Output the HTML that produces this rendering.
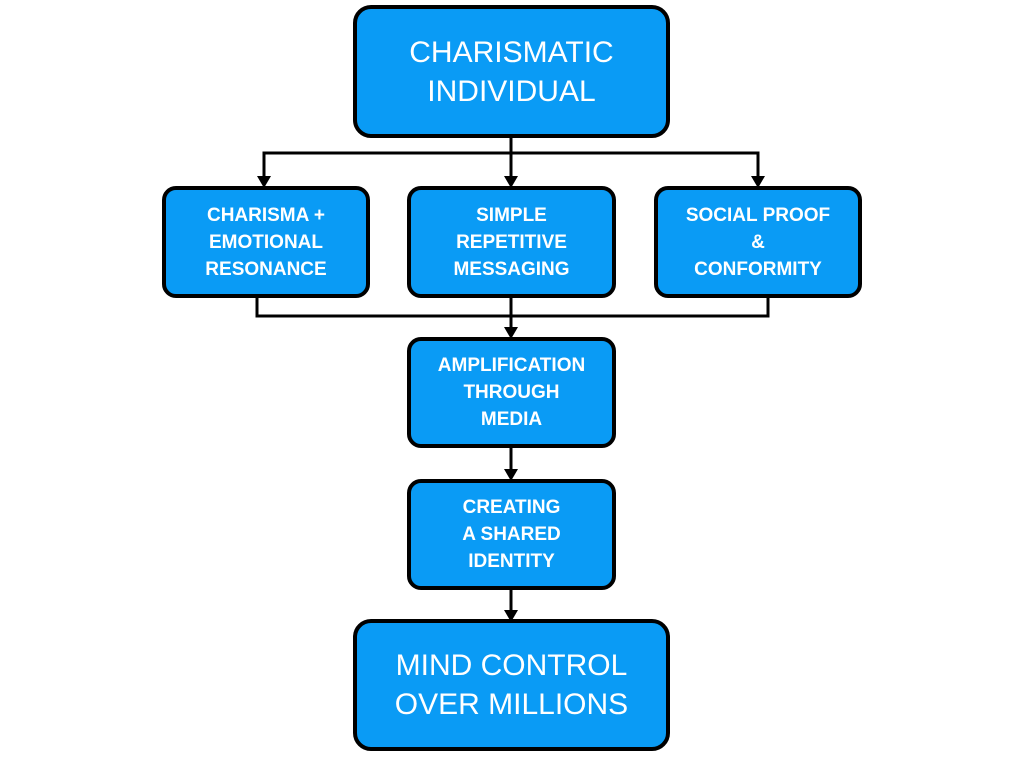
<!DOCTYPE html>
<html><head><style>
body{margin:0;width:1024px;height:768px;background:#fff;position:relative;overflow:hidden;font-family:"Liberation Sans",Arial,sans-serif}
.b{position:absolute;box-sizing:border-box;background:#0A9BF5;border:4px solid #000;border-radius:18px;color:#fff;display:flex;align-items:center;justify-content:center;text-align:center}
.s{font-weight:bold;font-size:19px;line-height:27px;border-radius:14px}
.l{font-size:30px;line-height:39px}
svg{position:absolute;left:0;top:0}
</style></head><body>
<svg width="1024" height="768">
<g stroke="#000" stroke-width="3" fill="none">
<line x1="511" y1="137" x2="511" y2="178"/>
<polyline points="264,178 264,153 758,153 758,178"/>
<polyline points="257,297 257,316 768,316 768,297"/>
<line x1="511" y1="297" x2="511" y2="329"/>
<line x1="511" y1="447" x2="511" y2="471"/>
<line x1="511" y1="589" x2="511" y2="612"/>
</g>
<g fill="#000">
<polygon points="257,176 271,176 264,188"/>
<polygon points="504,176 518,176 511,188"/>
<polygon points="751,176 765,176 758,188"/>
<polygon points="504,327 518,327 511,339"/>
<polygon points="504,469 518,469 511,481"/>
<polygon points="504,610 518,610 511,622"/>
</g>
</svg>
<div class="b l" style="left:353px;top:5px;width:317px;height:133px">CHARISMATIC<br>INDIVIDUAL</div>
<div class="b s" style="left:162px;top:186px;width:208px;height:112px">CHARISMA +<br>EMOTIONAL<br>RESONANCE</div>
<div class="b s" style="left:407px;top:186px;width:209px;height:112px">SIMPLE<br>REPETITIVE<br>MESSAGING</div>
<div class="b s" style="left:654px;top:186px;width:208px;height:112px">SOCIAL PROOF<br>&amp;<br>CONFORMITY</div>
<div class="b s" style="left:407px;top:337px;width:209px;height:111px">AMPLIFICATION<br>THROUGH<br>MEDIA</div>
<div class="b s" style="left:407px;top:479px;width:209px;height:111px">CREATING<br>A SHARED<br>IDENTITY</div>
<div class="b l" style="left:353px;top:619px;width:317px;height:132px">MIND CONTROL<br>OVER MILLIONS</div>
</body></html>
